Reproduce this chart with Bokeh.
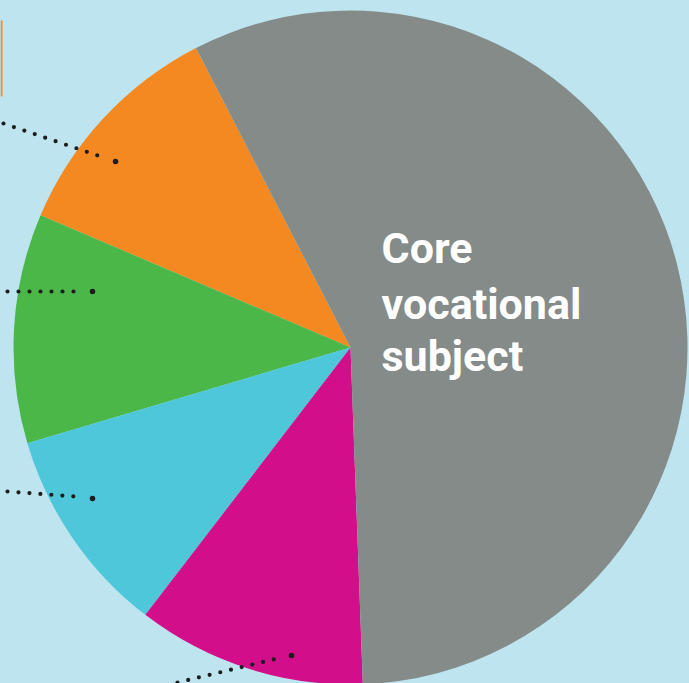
import numpy as np
from bokeh.plotting import figure
from bokeh.models import Range1d, ColumnDataSource
from bokeh.core.properties import value
from bokeh.embed import file_html
from bokeh.resources import INLINE

W, H = 689, 683

# ---- data ----
categories = ["Orange", "Green", "Cyan", "Magenta", "Core vocational subject"]
shares = [11, 11, 10, 11, 57]
colors = ["#f58921", "#4bb748", "#4fc7da", "#d20e8b", "#848b89"]
label_lines = ["Core", "vocational", "subject"]

# ---- layout (image pixel coordinates, y downward) ----
cx, cy, r = 350, 347, 337
start_deg = 117.3
label_x = 381
label_baselines = [247, 303, 355]
leaders = [  # (x0, y0, x1, y1, end_x, end_y)
    (3, 123, 106, 158, 115, 161),
    (7, 291, 75, 291, 92, 291),
    (7, 491, 75, 496, 92, 498),
    (177, 682, 277, 658, 291, 655),
]

def fy(y):
    return H - np.asarray(y, dtype=float)

vals = np.array(shares, dtype=float)
ang = np.cumsum(np.concatenate([[0], vals])) / vals.sum() * 2 * np.pi
starts = np.deg2rad(start_deg) + ang[:-1]
ends = np.deg2rad(start_deg) + ang[1:]

src = ColumnDataSource(dict(cat=categories, start=starts, end=ends, color=colors))

p = figure(width=W, height=H, output_backend="svg", toolbar_location=None,
           x_range=Range1d(0, W), y_range=Range1d(0, H), min_border=0)
p.axis.visible = False
p.grid.visible = False
p.outline_line_color = None
p.background_fill_color = "#bee5ef"
p.border_fill_color = "#bee5ef"

p.wedge(x=cx, y=float(fy(cy)), radius=r, start_angle="start", end_angle="end",
        fill_color="color", line_color=None, source=src)

# thin orange mark at left edge (cut-off legend)
p.quad(left=0, right=2, top=float(fy(20)), bottom=float(fy(96)),
       fill_color="#f58921", line_color=None)

for x0, y0, x1, y1, ex, ey in leaders:
    p.line([x0, x1], fy([y0, y1]), line_color="#1d1d1d", line_width=4.2,
           line_dash="0 11", line_cap="round")
    p.scatter([ex], fy([ey]), size=5.5, fill_color="#1d1d1d", line_color=None)

p.text(x=[label_x] * 3, y=fy(label_baselines), text=label_lines,
       text_font=value("Roboto"), text_font_style="bold",
       text_font_size="43px", text_color="white", text_baseline="alphabetic",
       text_align="left")

html = file_html(p, INLINE)
html = html.replace("<body>", '<body style="margin:0;background:#bee5ef;">')
open("out.html", "w").write(html)
